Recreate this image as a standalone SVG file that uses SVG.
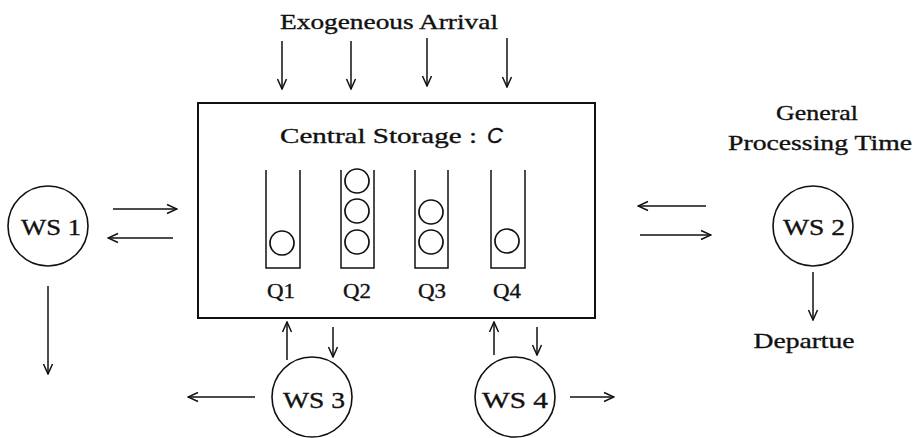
<svg xmlns="http://www.w3.org/2000/svg" width="918" height="438" viewBox="0 0 918 438">
  <style>
    .lbl { font-family: "Liberation Serif", "Times New Roman", serif; fill: #111; stroke: #111; stroke-width: 0.35; }
    .ln { stroke: #111; stroke-width: 1.5; fill: none; }
    .box { stroke: #111; stroke-width: 2; fill: none; }
    .ws { stroke: #111; stroke-width: 1.6; fill: #fff; }
    .item { stroke: #111; stroke-width: 1.7; fill: none; }
    .arr { stroke: #111; stroke-width: 1.5; fill: none; marker-end: url(#head); }
  </style>
  <defs>
    <marker id="head" viewBox="0 0 12 12" refX="11" refY="6" markerWidth="12" markerHeight="12" markerUnits="userSpaceOnUse" orient="auto">
      <path d="M1,1.5 L11,6 L1,10.5" fill="none" stroke="#111" stroke-width="1.5"/>
    </marker>
  </defs>

  <rect width="918" height="438" fill="#fff"/>

  <!-- arrival label -->
  <text class="lbl" x="280" y="29" font-size="22" textLength="218" lengthAdjust="spacingAndGlyphs">Exogeneous Arrival</text>

  <!-- central storage with four queues -->
  <g id="storage">
    <rect class="box" x="198" y="103" width="397" height="215"/>
    <text class="lbl" x="280" y="143" font-size="22" textLength="197" lengthAdjust="spacingAndGlyphs">Central Storage :</text>
    <text x="487" y="143" font-size="22" font-style="italic" font-family="'Liberation Sans', Arial, sans-serif" fill="#111" stroke="#111" stroke-width="0.3">C</text>
    <g id="q1">
      <path class="ln" d="M266,170 V268 H300 V170"/>
      <circle class="item" cx="282" cy="243" r="12"/>
      <text class="lbl" x="281" y="298" font-size="21" text-anchor="middle" textLength="28" lengthAdjust="spacingAndGlyphs">Q1</text>
    </g>
    <g id="q2">
      <path class="ln" d="M341,170 V268 H374 V170"/>
      <circle class="item" cx="357" cy="181" r="12"/>
      <circle class="item" cx="357" cy="211" r="12"/>
      <circle class="item" cx="357" cy="242" r="12"/>
      <text class="lbl" x="357" y="298" font-size="21" text-anchor="middle" textLength="28" lengthAdjust="spacingAndGlyphs">Q2</text>
    </g>
    <g id="q3">
      <path class="ln" d="M415,170 V268 H448 V170"/>
      <circle class="item" cx="431" cy="212" r="12"/>
      <circle class="item" cx="431" cy="242" r="12"/>
      <text class="lbl" x="432" y="298" font-size="21" text-anchor="middle" textLength="28" lengthAdjust="spacingAndGlyphs">Q3</text>
    </g>
    <g id="q4">
      <path class="ln" d="M491,170 V268 H525 V170"/>
      <circle class="item" cx="507" cy="241" r="12"/>
      <text class="lbl" x="507" y="298" font-size="21" text-anchor="middle" textLength="28" lengthAdjust="spacingAndGlyphs">Q4</text>
    </g>
  </g>

  <!-- workstations -->
  <g id="ws1">
    <circle class="ws" cx="48" cy="226" r="40"/>
    <text class="lbl" x="51" y="235" font-size="23" text-anchor="middle" textLength="60" lengthAdjust="spacingAndGlyphs">WS 1</text>
  </g>
  <g id="ws2">
    <circle class="ws" cx="813" cy="226" r="40"/>
    <text class="lbl" x="814" y="235" font-size="23" text-anchor="middle" textLength="62" lengthAdjust="spacingAndGlyphs">WS 2</text>
    <text class="lbl" x="817" y="120" font-size="22" text-anchor="middle" textLength="82" lengthAdjust="spacingAndGlyphs">General</text>
    <text class="lbl" x="820" y="150" font-size="22" text-anchor="middle" textLength="184" lengthAdjust="spacingAndGlyphs">Processing Time</text>
    <text class="lbl" x="804" y="348" font-size="22" text-anchor="middle" textLength="101" lengthAdjust="spacingAndGlyphs">Departue</text>
  </g>
  <g id="ws3">
    <circle class="ws" cx="312" cy="397" r="40"/>
    <text class="lbl" x="314" y="408" font-size="23" text-anchor="middle" textLength="62" lengthAdjust="spacingAndGlyphs">WS 3</text>
  </g>
  <g id="ws4">
    <circle class="ws" cx="515" cy="397" r="40"/>
    <text class="lbl" x="515" y="408" font-size="23" text-anchor="middle" textLength="66" lengthAdjust="spacingAndGlyphs">WS 4</text>
  </g>

  <!-- connectors -->
  <g id="connectors">
    <line class="arr" x1="282" y1="41" x2="282" y2="89"/>
    <line class="arr" x1="351" y1="41" x2="351" y2="89"/>
    <line class="arr" x1="427" y1="38" x2="427" y2="86"/>
    <line class="arr" x1="507" y1="38" x2="507" y2="87"/>

    <line class="arr" x1="113" y1="209" x2="177" y2="209"/>
    <line class="arr" x1="173" y1="238" x2="108" y2="238"/>
    <line class="arr" x1="48" y1="286" x2="48" y2="374"/>

    <line class="arr" x1="706" y1="206" x2="638" y2="206"/>
    <line class="arr" x1="640" y1="235" x2="711" y2="235"/>
    <line class="arr" x1="813" y1="272" x2="813" y2="320"/>

    <line class="arr" x1="287" y1="360" x2="287" y2="322"/>
    <line class="arr" x1="333" y1="327" x2="333" y2="357"/>
    <line class="arr" x1="494" y1="355" x2="494" y2="322"/>
    <line class="arr" x1="537" y1="327" x2="537" y2="355"/>

    <line class="arr" x1="255" y1="397" x2="188" y2="397"/>
    <line class="arr" x1="570" y1="397" x2="614" y2="397"/>
  </g>
</svg>
